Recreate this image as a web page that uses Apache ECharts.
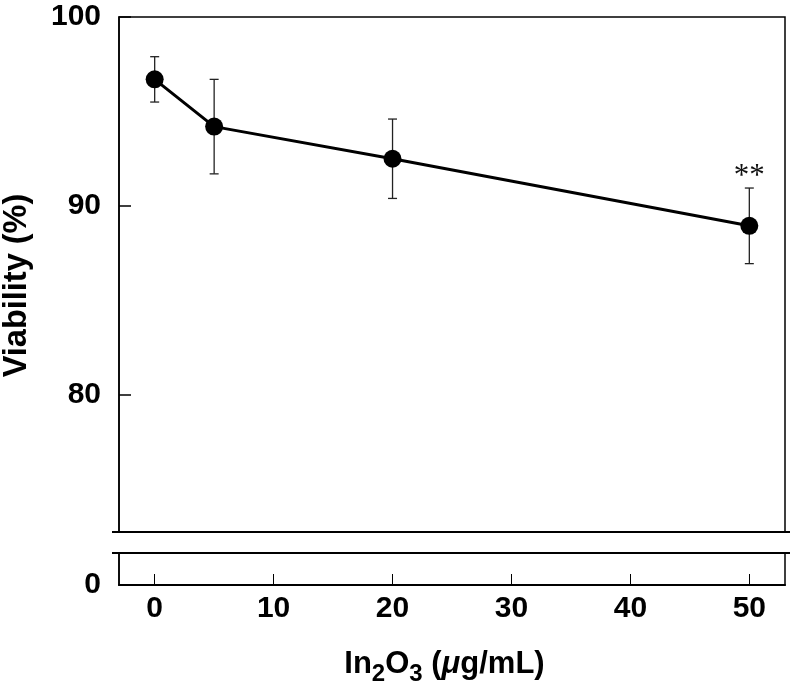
<!DOCTYPE html>
<html>
<head>
<meta charset="utf-8">
<script src="https://cdn.jsdelivr.net/npm/echarts@6/dist/echarts.min.js"></script>
<style>
html,body{margin:0;padding:0;background:#fff;}
#chart{width:794px;height:685px;}
</style>
</head>
<body>
<div id="chart"></div>
<script>
// ---- data ----
const doses = [0, 5, 20, 50];
const viability = [96.7, 94.2, 92.5, 88.95];
const errors = [1.2, 2.5, 2.1, 2.0];
const significance = ['', '', '', '**'];
const xTickValues = [0, 10, 20, 30, 40, 50];
const yTickValuesTop = [80, 90, 100];
const yTickValuesBottom = [0];

// ---- layout ----
const FONT = '"Liberation Sans", Arial, sans-serif';
const L = 119, R = 9;
const topTop = 17, topH = 515;
const botTop = 553, botH = 32;

const chart = echarts.init(document.getElementById('chart'), null, {renderer: 'canvas'});

const points = doses.map((d, i) => [d, viability[i]]);
const errData = doses.map((d, i) => [d, viability[i], errors[i], i]);

const yLabelStyle = {fontFamily: FONT, fontWeight: 'bold', fontSize: 30, color: '#000', margin: 18, padding: [0, 0, 9, 0]};

const option = {
  animation: false,
  backgroundColor: '#fff',
  grid: [
    {left: L, right: R, top: topTop, height: topH, show: true, borderColor: '#000', borderWidth: 1.5, backgroundColor: 'transparent'},
    {left: L, right: R, top: botTop, height: botH, show: true, borderColor: '#000', borderWidth: 1.5, backgroundColor: 'transparent'}
  ],
  xAxis: [
    {type: 'value', gridIndex: 0, min: -3, max: 53, show: false},
    {
      type: 'value', gridIndex: 1, min: -3, max: 53,
      axisLine: {show: true, onZero: false, lineStyle: {color: '#000', width: 2}},
      axisTick: {show: true, inside: true, length: 11, customValues: xTickValues, lineStyle: {color: '#000', width: 1}},
      axisLabel: {customValues: xTickValues, fontFamily: FONT, fontWeight: 'bold', fontSize: 30, color: '#000', margin: 9},
      splitLine: {show: false}
    }
  ],
  yAxis: [
    {
      type: 'value', gridIndex: 0, min: 72.75, max: 100,
      axisLine: {show: true, onZero: false, lineStyle: {color: '#000', width: 1.5}},
      axisTick: {show: true, inside: true, length: 12, customValues: yTickValuesTop, lineStyle: {color: '#000', width: 1.5}},
      axisLabel: Object.assign({customValues: yTickValuesTop}, yLabelStyle),
      splitLine: {show: false}
    },
    {
      type: 'value', gridIndex: 1, min: 0, max: 10,
      axisLine: {show: true, onZero: false, lineStyle: {color: '#000', width: 1.5}},
      axisTick: {show: false},
      axisLabel: Object.assign({customValues: yTickValuesBottom}, yLabelStyle, {padding: [0, 0, 4, 0]}),
      splitLine: {show: false}
    }
  ],
  graphic: [
    {type: 'line', shape: {x1: L - 7, y1: topTop + topH, x2: 794 - R + 5, y2: topTop + topH}, style: {stroke: '#000', lineWidth: 2}, z: 100},
    {type: 'line', shape: {x1: L - 7, y1: botTop, x2: 794 - R + 5, y2: botTop}, style: {stroke: '#000', lineWidth: 2}, z: 100},
    {
      type: 'text', x: 17.5, y: 285.5, rotation: Math.PI / 2,
      style: {text: 'Viability (%)', font: 'bold 32.5px ' + FONT, fill: '#000', align: 'center', verticalAlign: 'middle'}
    },
    {
      type: 'text', x: 444.5, y: 664,
      style: {
        text: '{a|In}{s|2}{a|O}{s|3}{a| (}{m|μ}{a|g/mL)}',
        align: 'center', verticalAlign: 'middle',
        rich: {
          a: {fontFamily: FONT, fontWeight: 'bold', fontSize: 31, fill: '#000', verticalAlign: 'middle', lineHeight: 40},
          m: {fontFamily: FONT, fontWeight: 'bold', fontStyle: 'italic', fontSize: 31, fill: '#000', verticalAlign: 'middle', lineHeight: 40},
          s: {fontFamily: FONT, fontWeight: 'bold', fontSize: 24, fill: '#000', verticalAlign: 'middle', lineHeight: 24, padding: [20, 0, 0, 0]}
        }
      }
    }
  ],
  series: [
    {
      type: 'custom',
      xAxisIndex: 0, yAxisIndex: 0,
      data: errData,
      z: 1,
      renderItem: function (params, api) {
        const x = api.value(0), y = api.value(1), e = api.value(2), idx = api.value(3);
        const top = api.coord([x, y + e]);
        const bot = api.coord([x, y - e]);
        const w = 4.5;
        const st = {stroke: '#222', lineWidth: 1.3};
        const children = [
          {type: 'line', shape: {x1: top[0], y1: top[1], x2: bot[0], y2: bot[1]}, style: st},
          {type: 'line', shape: {x1: top[0] - w, y1: top[1], x2: top[0] + w, y2: top[1]}, style: st},
          {type: 'line', shape: {x1: bot[0] - w, y1: bot[1], x2: bot[0] + w, y2: bot[1]}, style: st}
        ];
        const s = significance[idx];
        if (s) {
          children.push({type: 'text', style: {text: s, x: top[0], y: top[1] - 11, align: 'center', verticalAlign: 'middle', font: '31px "Liberation Serif", "Times New Roman", serif', fill: '#111'}});
        }
        return {type: 'group', children: children};
      }
    },
    {
      type: 'line',
      xAxisIndex: 0, yAxisIndex: 0,
      data: points,
      z: 3,
      symbol: 'circle',
      symbolSize: 18,
      lineStyle: {color: '#000', width: 3},
      itemStyle: {color: '#000'}
    }
  ]
};
chart.setOption(option);
</script>
</body>
</html>
